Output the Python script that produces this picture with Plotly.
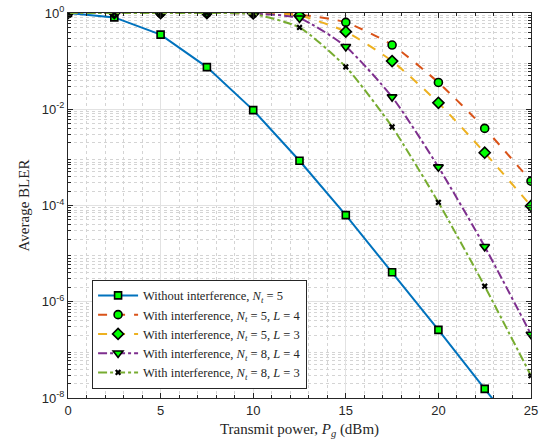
import plotly.graph_objects as go

power_dbm = [0, 2.5, 5, 7.5, 10, 12.5, 15, 17.5, 20, 22.5, 25]

bler_no_interf_nt5 = [1.0, 0.81, 0.355, 0.075, 0.0096, 8.5e-4, 6.3e-5, 4.1e-6, 2.6e-7, 1.55e-8, 9.5e-10]
bler_nt5_l4 = [1.0, 1.0, 1.0, 1.0, 0.99, 0.92, 0.64, 0.216, 0.036, 0.0040, 3.2e-4]
bler_nt5_l3 = [1.0, 1.0, 1.0, 1.0, 0.98, 0.88, 0.41, 0.10, 0.0136, 1.25e-3, 9.8e-5]
bler_nt8_l4 = [1.0, 1.0, 1.0, 1.0, 0.97, 0.78, 0.20, 0.018, 6.3e-4, 1.4e-5, 2.1e-7]
bler_nt8_l3 = [1.0, 1.0, 1.0, 1.0, 0.95, 0.50, 0.076, 0.0043, 1.16e-4, 2.1e-6, 2.9e-8]

names = [
    "Without interference, <i>N<sub>t</sub></i> = 5",
    "With interference, <i>N<sub>t</sub></i> = 5, <i>L</i> = 4",
    "With interference, <i>N<sub>t</sub></i> = 5, <i>L</i> = 3",
    "With interference, <i>N<sub>t</sub></i> = 8, <i>L</i> = 4",
    "With interference, <i>N<sub>t</sub></i> = 8, <i>L</i> = 3",
]
series = [bler_no_interf_nt5, bler_nt5_l4, bler_nt5_l3, bler_nt8_l4, bler_nt8_l3]
colors = ["#0072BD", "#D95319", "#EDB120", "#7E2F8E", "#77AC30"]
dashes = ["solid", "dash", "dash", "dashdot", "dashdot"]
symbols = ["square", "circle", "diamond", "triangle-down", "x"]
msizes = [7, 8, 8.5, 8.5, 5.5]
shapes = ["linear", "spline", "spline", "spline", "spline"]

SERIF = "Liberation Serif"

fig = go.Figure()
for name, ys, c, d, s, ms, sh in zip(names, series, colors, dashes, symbols, msizes, shapes):
    if s == "x":
        marker = dict(symbol=s, size=ms, color="black", line=dict(width=0))
    else:
        marker = dict(symbol=s, size=ms, color="#00FF00", line=dict(color="black", width=1.6))
    fig.add_trace(go.Scatter(
        x=power_dbm, y=ys, name=name, mode="lines+markers",
        line=dict(color=c, width=2, dash=d, shape=sh, smoothing=0.6),
        marker=marker,
    ))

ytick_vals = [10 ** k for k in range(-8, 1, 2)]
ytick_text = ["10<sup>%d</sup>" % k for k in range(-8, 1, 2)]
yminor = [m * 10 ** k for k in range(-8, 0) for m in range(2, 10)]

axis_common = dict(
    showline=True, linecolor="#262626", linewidth=1, mirror="ticks",
    ticks="inside", ticklen=5, tickcolor="#262626",
    gridcolor="#E2E2E2", gridwidth=1, zeroline=False, automargin=False,
    tickfont=dict(family="Liberation Sans", size=13, color="#262626"),
)

fig.update_xaxes(
    range=[0, 25], tickvals=[0, 5, 10, 15, 20, 25],
    title=dict(text="Transmit power, <i>P<sub>g</sub></i> (dBm)",
               font=dict(family=SERIF, size=15, color="#262626"), standoff=6),
    minor=dict(dtick=1, showgrid=True, griddash="dot", gridcolor="#D4D4D4", ticks="inside", ticklen=3, tickcolor="#262626"),
    **axis_common,
)
fig.update_yaxes(
    type="log", range=[-8, 0], tickvals=ytick_vals, ticktext=ytick_text,
    title=dict(text="Average BLER",
               font=dict(family=SERIF, size=15, color="#262626"), standoff=8),
    minor=dict(tickvals=yminor, showgrid=True, griddash="dot", gridcolor="#D4D4D4", ticks="inside", ticklen=3, tickcolor="#262626"),
    **axis_common,
)

fig.update_layout(
    width=553, height=440,
    margin=dict(l=68, r=22, t=13, b=42),
    font=dict(family=SERIF, color="#262626"),
    plot_bgcolor="white", paper_bgcolor="white",
    legend=dict(
        x=0.052, y=0.024, xanchor="left", yanchor="bottom",
        bgcolor="white", bordercolor="#262626", borderwidth=1,
        font=dict(family=SERIF, size=12.5, color="#262626"),
        tracegroupgap=0, itemwidth=40,
    ),
    showlegend=True,
)

fig.write_html("out.html")
